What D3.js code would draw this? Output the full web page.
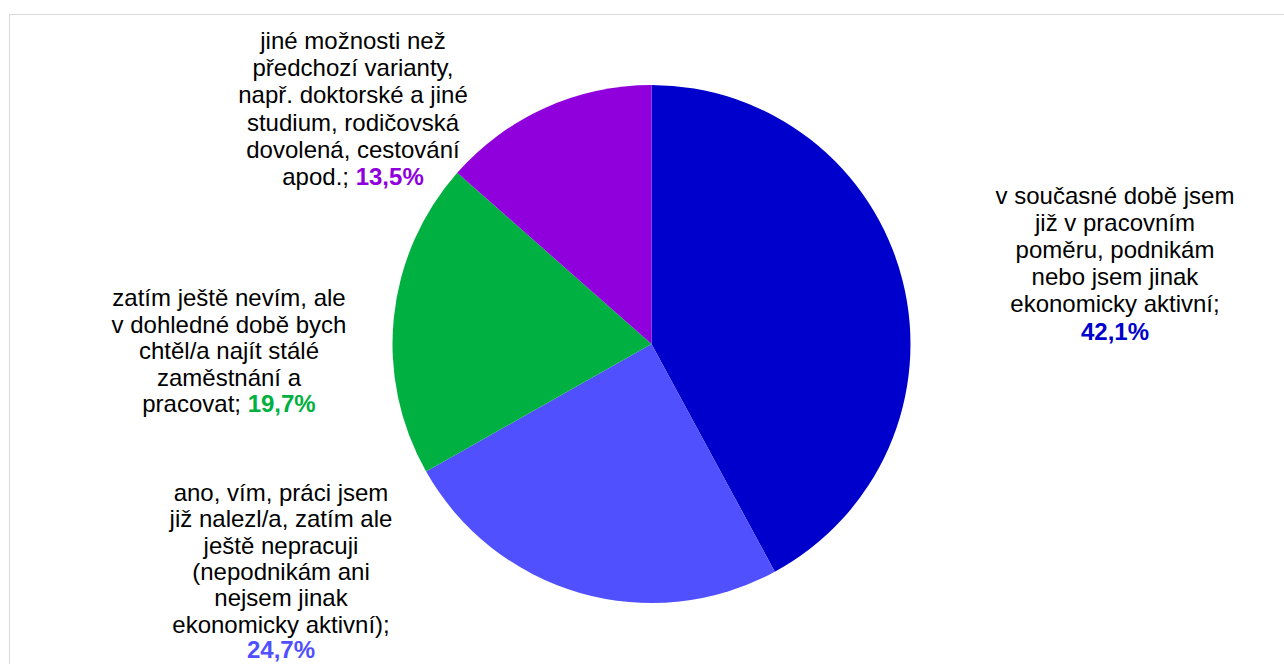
<!DOCTYPE html>
<html><head><meta charset="utf-8">
<script src="https://cdn.jsdelivr.net/npm/d3@7"></script>
<style>html,body{margin:0;padding:0;background:#fff;}svg{display:block;font-family:"Liberation Sans",Arial,sans-serif;}</style>
</head><body>
<svg id="c" width="1284" height="664"></svg>
<script>
const categories = [
  "v současné době jsem\njiž v pracovním\npoměru, podnikám\nnebo jsem jinak\nekonomicky aktivní;",
  "ano, vím, práci jsem\njiž nalezl/a, zatím ale\nještě nepracuji\n(nepodnikám ani\nnejsem jinak\nekonomicky aktivní);",
  "zatím ještě nevím, ale\nv dohledné době bych\nchtěl/a najít stálé\nzaměstnání a\npracovat;",
  "jiné možnosti než\npředchozí varianty,\nnapř. doktorské a jiné\nstudium, rodičovská\ndovolená, cestování\napod.;"
];
const values = [42.1, 24.7, 19.7, 13.5];
const valueLabels = ["42,1%", "24,7%", "19,7%", "13,5%"];
const colors = ["#0000cc", "#5050ff", "#00b040", "#9000dc"];
const pctOwnLine = [true, true, false, false];

const W = 1284, H = 664;
const svg = d3.select("#c");
svg.append("rect").attr("x", 9.5).attr("y", 14.5).attr("width", W + 10).attr("height", H + 10)
  .attr("fill", "#fff").attr("stroke", "#d9d9d9").attr("stroke-width", 1);

const cx = 651.5, cy = 344, r = 259;
const pie = d3.pie().sort(null).value(d => d);
const arcs = pie(values);
const arc = d3.arc().innerRadius(0).outerRadius(r);
const g = svg.append("g").attr("transform", `translate(${cx},${cy})`);
g.selectAll("path").data(arcs).enter().append("path")
  .attr("d", arc).attr("fill", (d, i) => colors[i]);

// label block layout: center x, first baseline y, line height, baseline of own-line percentage
const labelLayout = [
  {x: 1115, y: 204, lh: 27, py: 340},
  {x: 281, y: 501, lh: 26.3, py: 658},
  {x: 229, y: 306, lh: 26.6},
  {x: 353, y: 49, lh: 27.2}
];
categories.forEach((cat, i) => {
  const lines = cat.split("\n");
  const L = labelLayout[i];
  const t = svg.append("text").attr("text-anchor", "middle")
    .attr("font-size", 24).attr("fill", "#000");
  lines.forEach((ln, j) => {
    const last = j === lines.length - 1;
    t.append("tspan").attr("x", L.x).attr("y", L.y + j * L.lh)
      .text(ln + (!pctOwnLine[i] && last ? " " : ""));
    if (!pctOwnLine[i] && last) {
      t.append("tspan").attr("font-weight", "bold").attr("fill", colors[i]).text(valueLabels[i]);
    }
  });
  if (pctOwnLine[i]) {
    t.append("tspan").attr("x", L.x).attr("y", L.py)
      .attr("font-weight", "bold").attr("fill", colors[i]).text(valueLabels[i]);
  }
});
</script>
</body></html>
